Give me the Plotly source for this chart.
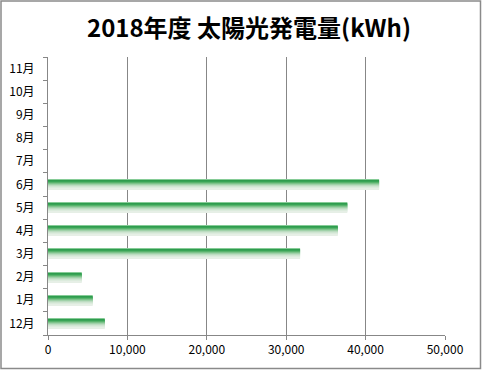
import plotly.graph_objects as go

months = ["12月", "1月", "2月", "3月", "4月", "5月", "6月", "7月", "8月", "9月", "10月", "11月"]
values = [7150, 5630, 4250, 31750, 36500, 37700, 41700, None, None, None, None, None]
x_ticks = [0, 10000, 20000, 30000, 40000, 50000]
x_tick_labels = ["0", "10,000", "20,000", "30,000", "40,000", "50,000"]
title_text = "2018年度 太陽光発電量(kWh)"

# gradient stripes, top to bottom
stripe_colors = ["#86cc97", "#2f9c4e", "#38a456", "#58b36c", "#7dc38b",
                 "#9fd1a8", "#bcdcc1", "#cfe5d2", "#dcebdd", "#e6efe6"]
bar_thickness = 0.43

W, H = 482, 370
ml, mr, mt, mb = 48, 37, 57, 35

fig = go.Figure()
n = len(stripe_colors)
sw = bar_thickness / n
for i, c in enumerate(stripe_colors):
    off = bar_thickness / 2 - (i + 1) * sw
    fig.add_trace(go.Bar(
        y=months, x=values, orientation="h",
        width=sw * 1.05, offset=off,
        marker=dict(color=c, line=dict(width=0)),
        showlegend=False, hoverinfo="skip",
    ))

pw = W - ml - mr
ph = H - mt - mb
fig.add_shape(type="rect", xref="paper", yref="paper",
              x0=(-ml + 1) / pw, x1=1 + (mr - 1.5) / pw,
              y0=(-mb + 1.5) / ph, y1=1 + (mt - 1) / ph,
              line=dict(color="#8a8a8a", width=1.5), fillcolor="rgba(0,0,0,0)", layer="below")

fig.update_layout(
    width=W, height=H,
    margin=dict(l=ml, r=mr, t=mt, b=mb, autoexpand=False),
    barmode="overlay",
    paper_bgcolor="white", plot_bgcolor="white",
    title=dict(text=title_text, x=249 / W, xref="container", xanchor="center",
               yref="container", y=1 - 29 / H, yanchor="middle", automargin=False,
               font=dict(family="Noto Sans CJK JP", size=24, color="#000000", weight="bold")),
    font=dict(family="Noto Sans CJK JP", size=12, color="#000000"),
    xaxis=dict(range=[0, 50000], tickvals=x_ticks, ticktext=x_tick_labels,
               automargin=False,
               showgrid=True, gridcolor="#878787", gridwidth=1,
               showline=True, linecolor="#878787", linewidth=1,
               ticks="outside", ticklen=4, tickcolor="#878787",
               zeroline=False, tickfont=dict(size=12, family="Noto Sans CJK JP")),
    yaxis=dict(type="category", categoryorder="array", categoryarray=months,
               range=[-0.5, len(months) - 0.5], automargin=False,
               tickson="boundaries", ticks="outside", ticklen=4, tickcolor="#878787",
               showline=True, linecolor="#878787", linewidth=1,
               showgrid=False, zeroline=False,
               ticklabelstandoff=10,
               tickfont=dict(size=12, family="Noto Sans CJK JP")),
)

fig.write_html("out.html", config={"displayModeBar": False},
               post_script="document.body.style.margin='0';")
